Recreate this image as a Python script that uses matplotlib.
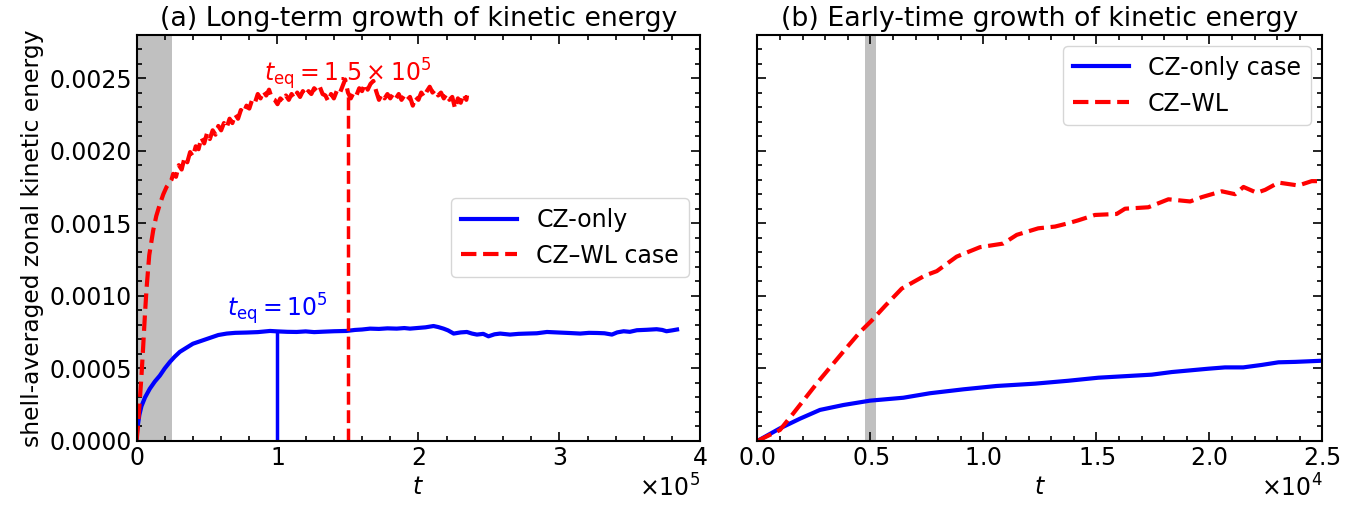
import matplotlib
matplotlib.use("Agg")
import matplotlib.pyplot as plt
from matplotlib.ticker import MultipleLocator, ScalarFormatter, FormatStrFormatter

plt.rcParams['font.size'] = 17
plt.rcParams['mathtext.fontset'] = 'dejavusans'
plt.rcParams['legend.handlelength'] = 2.4

# ---- panel (a): long-term data (t in units of 1e5) ----
wl_t = [0, 0.01, 0.023, 0.035, 0.047, 0.06, 0.071, 0.09, 0.118, 0.14, 0.165, 0.19,
        0.213, 0.235, 0.248,
        0.26, 0.28, 0.30, 0.32, 0.34, 0.36, 0.38, 0.40, 0.42, 0.44, 0.46, 0.48, 0.50,
        0.52, 0.54, 0.56, 0.58, 0.60, 0.62, 0.64, 0.66, 0.68, 0.70, 0.72, 0.74, 0.76,
        0.78, 0.80, 0.82, 0.84, 0.86, 0.88, 0.90, 0.92, 0.94, 0.96, 0.98, 1.00, 1.02,
        1.04, 1.06, 1.08, 1.10, 1.12, 1.14, 1.16, 1.18, 1.20, 1.22, 1.24, 1.26, 1.28,
        1.30, 1.32, 1.34, 1.36, 1.38, 1.40, 1.42, 1.44, 1.46, 1.48, 1.50, 1.52, 1.54,
        1.56, 1.58, 1.60, 1.62, 1.64, 1.66, 1.68, 1.70, 1.72, 1.74, 1.76, 1.78, 1.80,
        1.82, 1.84, 1.86, 1.88, 1.90, 1.92, 1.94, 1.96, 1.98, 2.00, 2.02, 2.04, 2.06,
        2.08, 2.10, 2.12, 2.14, 2.16, 2.18, 2.20, 2.22, 2.24, 2.26, 2.28, 2.30, 2.32,
        2.34, 2.345]
wl_E = [0, 0.00010, 0.00028, 0.00045, 0.00065, 0.00088, 0.00105, 0.00128, 0.00145,
        0.00155, 0.00163, 0.00170, 0.00175, 0.00178, 0.00180,
        0.00184, 0.00182, 0.00190, 0.00187, 0.00195, 0.00192, 0.00199, 0.00196, 0.00203,
        0.00201, 0.00209, 0.00205, 0.00212, 0.00208, 0.00214, 0.00211, 0.00217, 0.00214,
        0.00219, 0.00216, 0.00222, 0.00219, 0.00225, 0.00222, 0.00228, 0.00226, 0.00231,
        0.00229, 0.00235, 0.00233, 0.00239, 0.00236, 0.00241, 0.00238, 0.00242, 0.00236,
        0.00235, 0.00232, 0.00236, 0.00234, 0.00238, 0.00235, 0.00239, 0.00236, 0.00240,
        0.00237, 0.00241, 0.00238, 0.00241, 0.00239, 0.00243, 0.00241, 0.00244, 0.00239,
        0.00238, 0.00234, 0.00239, 0.00236, 0.00241, 0.00239, 0.00244, 0.00249, 0.00240,
        0.00236, 0.00240, 0.00238, 0.00243, 0.00241, 0.00246, 0.00242, 0.00246, 0.00248,
        0.00241, 0.00235, 0.00239, 0.00236, 0.00239, 0.00236, 0.00239, 0.00236, 0.00239,
        0.00235, 0.00238, 0.00235, 0.00237, 0.00231, 0.00237, 0.00235, 0.00240, 0.00237,
        0.00241, 0.00244, 0.00240, 0.00242, 0.00238, 0.00240, 0.00236, 0.00239, 0.00235,
        0.00237, 0.00229, 0.00236, 0.00233, 0.00239, 0.00235, 0.00238]

cz_t = [0, 0.005, 0.011, 0.02, 0.035, 0.06, 0.094, 0.13, 0.165, 0.20, 0.237, 0.27,
        0.307, 0.35, 0.40, 0.46, 0.52, 0.58, 0.64, 0.70, 0.78, 0.86, 0.947, 1.00, 1.07,
        1.136, 1.20, 1.26, 1.325, 1.40, 1.49, 1.55, 1.60, 1.657, 1.72, 1.78, 1.846, 1.90,
        1.94, 2.00, 2.05, 2.107, 2.14, 2.178, 2.21, 2.25, 2.30, 2.344, 2.38, 2.415, 2.46,
        2.497, 2.54, 2.58, 2.65, 2.71, 2.77, 2.84, 2.912, 3.0, 3.07, 3.148, 3.21, 3.27,
        3.32, 3.373, 3.41, 3.456, 3.50, 3.55, 3.62, 3.69, 3.73, 3.76, 3.80, 3.835]
cz_E = [0.00002, 0.00008, 0.00012, 0.00018, 0.00024, 0.00030, 0.00036, 0.00041, 0.00045,
        0.00050, 0.000545, 0.00058, 0.000614, 0.00064, 0.00067, 0.00069, 0.00071, 0.00073,
        0.00074, 0.000745, 0.000747, 0.00075, 0.000758, 0.000755, 0.000752, 0.000751,
        0.000755, 0.00075, 0.000753, 0.000756, 0.000758, 0.000765, 0.000768, 0.000774,
        0.000772, 0.000776, 0.000774, 0.000778, 0.000774, 0.000779, 0.000783, 0.000792,
        0.000785, 0.000774, 0.000762, 0.00074, 0.000748, 0.000751, 0.00074, 0.000733,
        0.000738, 0.000721, 0.000735, 0.00074, 0.000733, 0.000738, 0.00074, 0.000742,
        0.000751, 0.000747, 0.000744, 0.00074, 0.000745, 0.000744, 0.000742, 0.000733,
        0.000748, 0.000756, 0.000752, 0.000763, 0.000766, 0.00077, 0.000765, 0.000756,
        0.000762, 0.000768]

# equilibration times and the curve values there
teq_cz, Eeq_cz = 1.0e5, 0.000755
teq_wl, Eeq_wl = 1.5e5, 0.00240

# ---- panel (b): early-time data ----
wl_t_early = [0, 1000, 1590, 2700, 3880, 4540, 5060, 5650, 6390, 7420, 7940, 8820, 9850,
              10880, 11480, 12430, 13170, 13760, 14200, 14940, 15900, 16270, 17300, 18190,
              19150, 19670, 20550, 21140, 21510, 22100, 22470, 23060, 23940, 24530, 25040]
wl_E_early = [0, 0.000076, 0.00019, 0.00041, 0.00063, 0.00075, 0.00083, 0.00093, 0.00105,
              0.00114, 0.00117, 0.00127, 0.001335, 0.00136, 0.00142, 0.001465, 0.001477,
              0.0015, 0.00152, 0.001557, 0.001564, 0.0016, 0.00161, 0.001665, 0.00165,
              0.00168, 0.00172, 0.0017, 0.00175, 0.00171, 0.00173, 0.00178, 0.00176,
              0.00179, 0.00179]
cz_t_early = [0, 1000, 1890, 2770, 3810, 4990, 6460, 7640, 9120, 10590, 12290, 13760, 15090,
              17450, 18340, 19960, 20690, 21500, 22320, 23060, 23800, 25000]
cz_E_early = [0, 0.000087, 0.000154, 0.000214, 0.000248, 0.000278, 0.000298, 0.000329,
              0.000356, 0.000379, 0.000395, 0.000415, 0.000436, 0.000457, 0.000475,
              0.000498, 0.000507, 0.000507, 0.000524, 0.000542, 0.000545, 0.000553]

fig = plt.figure(figsize=(13.71, 5.09), dpi=100)
ax1 = fig.add_axes([0.0996, 0.1336, 0.4112, 0.7986])
ax2 = fig.add_axes([0.5524, 0.1336, 0.4121, 0.7986], sharey=ax1)

# (a)
ax1.axvspan(0, 2.5e4, color='silver', lw=0)
ax1.plot([t * 1e5 for t in cz_t], cz_E, color='blue', lw=3, label='CZ-only')
ax1.plot([t * 1e5 for t in wl_t], wl_E, color='red', lw=3, ls='--', label='CZ–WL case')
ax1.vlines(teq_cz, 0, Eeq_cz, color='blue', lw=2.5)
ax1.vlines(teq_wl, 0, Eeq_wl, color='red', lw=2.5, linestyles='--')
ax1.text(teq_cz, 0.00086, r'$t_{\rm eq} = 10^5$', color='blue', ha='center', va='baseline')
ax1.text(teq_wl, 0.00248, r'$t_{\rm eq} = 1.5\times10^5$', color='red', ha='center',
         va='baseline')
ax1.set_xlim(0, 4e5)
ax1.set_ylim(0, 0.0028)
ax1.xaxis.set_major_locator(MultipleLocator(1e5))
ax1.xaxis.set_minor_locator(MultipleLocator(0.2e5))
ax1.yaxis.set_major_locator(MultipleLocator(0.0005))
ax1.yaxis.set_minor_locator(MultipleLocator(0.0001))
ax1.yaxis.set_major_formatter(FormatStrFormatter('%.4f'))
ax1.set_xlabel('$t$')
ax1.set_ylabel('shell-averaged zonal kinetic energy', fontsize=16.8)
ax1.set_title('(a) Long-term growth of kinetic energy', fontsize=19.3)
ax1.legend(loc='center right', fontsize=17)

# (b)
ax2.axvspan(4750, 5250, color='silver', lw=0)
ax2.plot(cz_t_early, cz_E_early, color='blue', lw=3, label='CZ-only case')
ax2.plot(wl_t_early, wl_E_early, color='red', lw=3, ls='--', label='CZ–WL')
ax2.set_xlim(0, 2.5e4)
ax2.xaxis.set_major_locator(MultipleLocator(0.5e4))
ax2.xaxis.set_minor_locator(MultipleLocator(0.1e4))
ax2.set_xlabel('$t$')
ax2.set_title('(b) Early-time growth of kinetic energy', fontsize=19.3)
ax2.legend(loc='upper right', fontsize=17)
ax2.tick_params(labelleft=False)

for ax in (ax1, ax2):
    fmt = ScalarFormatter(useMathText=True)
    fmt.set_powerlimits((0, 0))
    ax.xaxis.set_major_formatter(fmt)
    ax.tick_params(which='both', direction='in', top=True, right=True, width=1.2)
    ax.tick_params(which='major', length=6.5)
    ax.tick_params(which='minor', length=3.5)
    for s in ax.spines.values():
        s.set_linewidth(1.5)

fig.savefig('out.png', dpi=100)
